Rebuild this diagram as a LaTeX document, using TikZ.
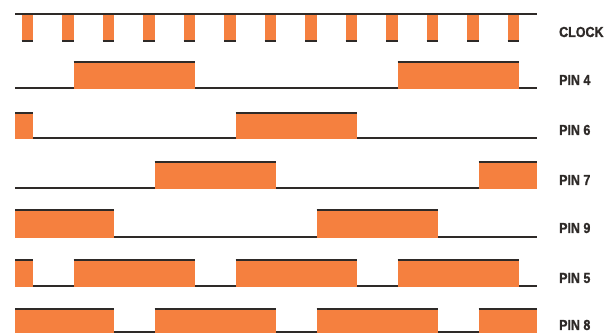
\documentclass[tikz,border=0pt]{standalone}
\usepackage{fontspec}
\newfontfamily\labfont{Liberation Sans}[FakeStretch=0.86,BoldFeatures={FakeBold=1.2}]
\definecolor{sig}{HTML}{F5803F}
\definecolor{ink}{HTML}{2E2A28}
\newcommand\tk[1]{33+40.5*#1}
\newcommand\pinwave[4]{%
  \foreach \a/\b in {#3} {%
    \fill[sig] ({\tk{\a}},#1) rectangle ({\tk{\b}},{#2+1});
    \draw[ln] ({\tk{\a}},#1) -- ({\tk{\b}},#1);}
  \foreach \a/\b in {#4} {%
    \draw[ln] ({\tk{\a}},#2) -- ({\tk{\b}},#2);}
}
\begin{document}
\begin{tikzpicture}[x=1pt,y=-1pt,
  ln/.style={draw=ink,line width=2.8pt},
  lab/.style={anchor=west,inner sep=0pt,text=ink,font=\labfont\bfseries\fontsize{14.5}{14.5}\selectfont}]
\useasboundingbox[fill=white] (0,0) rectangle (614,335);
% clock
\foreach \k in {0,...,12} {%
  \fill[sig] ({\tk{\k}-11.5},15) rectangle ({\tk{\k}},42);
  \draw[ln] ({\tk{\k}-11.5},41) -- ({\tk{\k}},41);}
\draw[ln] (15,14) -- (537,14);
% pins
\pinwave{62}{88}{1/4,9/12}{-0.4444/1,4/9,12/12.4444}
\pinwave{113}{138}{-0.4444/0,5/8}{0/5,8/12.4444}
\pinwave{162}{188}{3/6,11/12.4444}{-0.4444/3,6/11}
\pinwave{210}{237}{-0.4444/2,7/10}{2/7,10/12.4444}
\pinwave{260}{286}{-0.4444/0,1/4,5/8,9/12}{0/1,4/5,8/9,12/12.4444}
\pinwave{309}{332}{-0.4444/2,3/6,7/10,11/12.4444}{2/3,6/7,10/11}
% labels
\node[lab] (lclk) at (559,32) {CLOCK};
\node[lab] (l4) at (559,80) {PIN 4};
\node[lab] (l6) at (559,130) {PIN 6};
\node[lab] (l7) at (559,180) {PIN 7};
\node[lab] (l9) at (559,228) {PIN 9};
\node[lab] (l5) at (559,278) {PIN 5};
\node[lab] (l8) at (559,325) {PIN 8};
\end{tikzpicture}
\end{document}
